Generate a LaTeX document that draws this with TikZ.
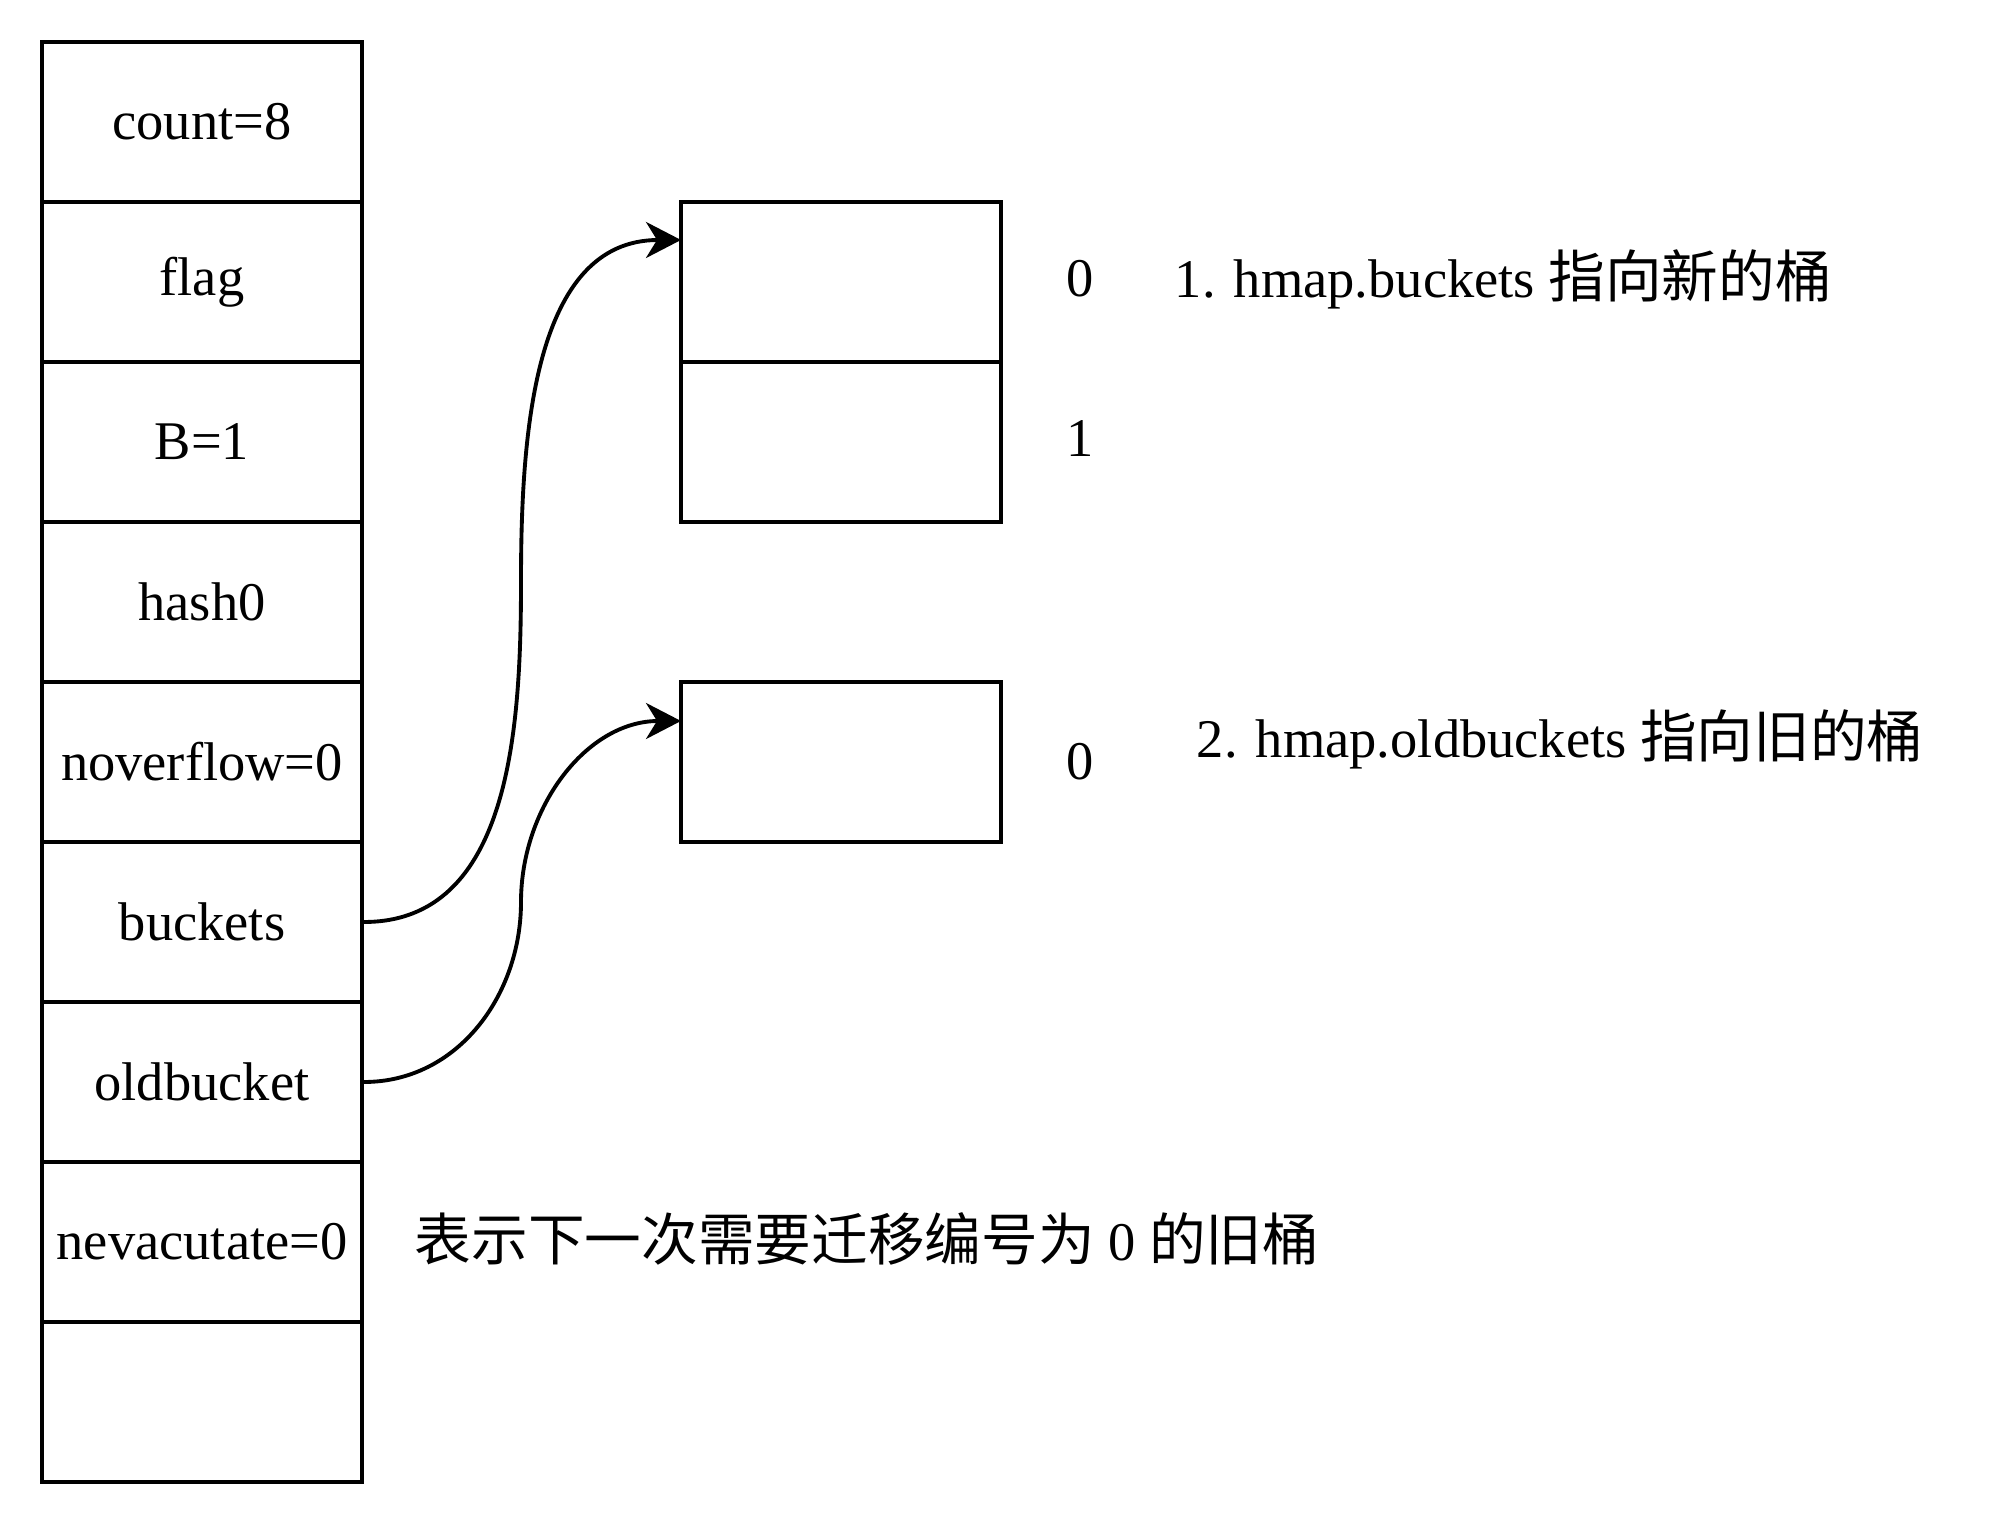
\documentclass[tikz,border=0pt]{standalone}
\usepackage{fontspec}
\setmainfont{Liberation Serif}
\newfontfamily\cjk[Scale=1.04]{Noto Sans CJK SC}
\usetikzlibrary{arrows.meta, positioning}

\begin{document}
\begin{tikzpicture}[
        font=\fontsize{15.5}{18}\selectfont,
        line width=1.1pt,
        cell/.style={draw, minimum width=3.2cm, minimum height=1.6cm, inner sep=0pt},
        ptr/.style={-{Stealth[length=3.5mm, width=3.6mm, inset=1.1mm]}}
    ]
        \useasboundingbox (0,0) rectangle (20.04,15.24);

        % Draw the hmap fields
        \node[cell] (count) at (2.02,14.02) {count=8};
        \node[cell] (flag) at (2.02,12.42) {flag};
        \node[cell] (bee) at (2.02,10.82) {B=1};
        \node[cell] (hash) at (2.02,9.22) {hash0};
        \node[cell] (noverflow) at (2.02,7.62) {noverflow=0};
        \node[cell] (buckets) at (2.02,6.02) {buckets};
        \node[cell] (oldbucket) at (2.02,4.42) {oldbucket};
        \node[cell] (nevac) at (2.02,2.82) {nevacutate=0};
        \node[cell] (spare) at (2.02,1.22) {};

        % Draw the new and old buckets
        \node[cell] (new0) at (8.41,12.42) {};
        \node[cell] (new1) at (8.41,10.82) {};
        \node[cell] (old0) at (8.41,7.62) {};

        % Add bucket numbers
        \node (newnum0) at (10.80,12.45) {0};
        \node (newnum1) at (10.80,10.85) {1};
        \node (oldnum0) at (10.80,7.62) {0};

        % Add text right of the buckets
        \node[anchor=west, inner sep=0pt] (note1) at (11.73,12.45) {1. hmap.buckets {\cjk 指向新的桶}};
        \node[anchor=west, inner sep=0pt] (note2) at (11.95,7.85) {2. hmap.oldbuckets {\cjk 指向旧的桶}};
        \node[anchor=west, inner sep=0pt] (note3) at (4.13,2.85) {{\cjk 表示下一次需要迁移编号为} 0 {\cjk 的旧桶}};

        % Draw the pointers
        \coordinate (newin) at (6.81,12.84);
        \coordinate (oldin) at (6.81,8.03);
        \coordinate (newmid) at (5.21,9.43);
        \coordinate (oldmid) at (5.21,6.22);
        \draw[ptr] (buckets.east) to[out=0, in=-90] (newmid) to[out=90, in=180] (newin);
        \draw[ptr] (oldbucket.east) to[out=0, in=-90] (oldmid) to[out=90, in=180] (oldin);
    \end{tikzpicture}
\end{document}
